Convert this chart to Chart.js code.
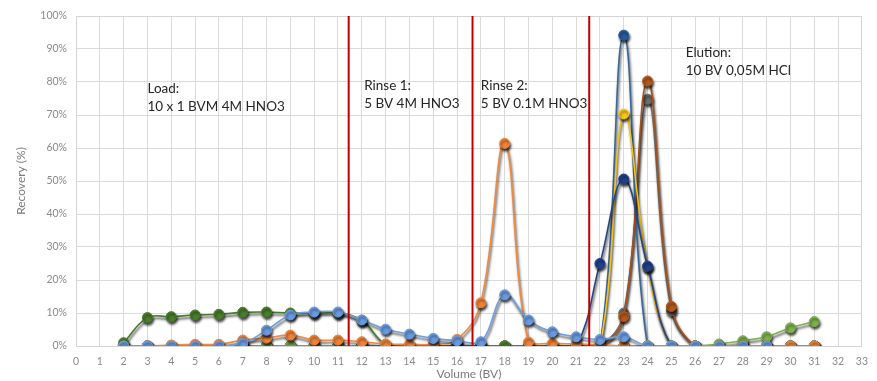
<!DOCTYPE html>
<html>
<head>
<meta charset="utf-8">
<script src="https://cdn.jsdelivr.net/npm/chart.js@4"></script>
<style>
  html, body { margin: 0; padding: 0; background: #fff; }
  #wrap { width: 877px; height: 381px; }
</style>
</head>
<body>
<div id="wrap"><canvas id="chart"></canvas></div>
<script>
// volumes (BV) where fractions were collected
const volumes = [2, 3, 4, 5, 6, 7, 8, 9, 10, 11, 12, 13, 14, 15, 16, 17, 18, 19, 20, 21, 22, 23, 24, 25, 26, 27, 28, 29, 30, 31];

// recovery (%) per series, one value per volume
const lightBlue  = [0, 0, 0, 0, 0, 0.8, 4.8, 9.4, 10.3, 10.3, 7.9, 5.1, 3.6, 2.3, 1.6, 1.3, 15.5, 7.9, 4.3, 2.8, 2, 2.8, 0, 0, 0, 0, 0, 0, null, null];
const orange     = [0, 0, 0.3, 0.5, 0.5, 1.8, 2.4, 3.3, 1.8, 1.8, 1.3, 0.6, 0.5, 0.5, 2, 13.1, 61.4, 1.2, 0.8, 0.6, 0.4, 0, 0, 0, 0, 0, 0, 0, 0, 0];
const darkGreen  = [1, 8.6, 8.9, 9.4, 9.6, 10.2, 10.3, 10, 10, 10, 7.8, 0.5, 0, 0, 0, 0, 0, 0, 0, 0, 0, 0, 0, 0, 0, 0, 0, 0, 0, 0];
const lightGreen = [0, 0, 0, 0, 0, 0, 0, 0, 0, 0, 0, 0, 0, 0, 0, 0, 0, 0, 0, 0, 0, 0, 0, 0, 0, 0.6, 1.6, 2.8, 5.5, 7.4];
const yellow     = [0, 0, 0, 0, 0, 0, 0, 0, 0, 0, 0, 0, 0, 0, 0, 0, 0, 0, 0, 0, 0, 70.3, 24, 0, 0, 0, 0, 0, 0, 0];
const steelBlue  = [0, 0, 0, 0, 0, 0, 0, 0, 0, 0, 0, 0, 0, 0, 0, 0, 0, 0, 0, 0, 0, 94.2, 0, 0, 0, 0, 0, 0, 0, 0];
const navy       = [0, 0, 0, 0, 0, 0, 0, 0, 0, 0, 0, 0, 0, 0, 0, 0, 0, 0, 0, 0, 25, 50.6, 24.2, 0, 0, 0, 0, 0, 0, 0];
const brown      = [0, 0, 0, 0, 0, 0, 0, 0, 0, 0, 0, 0, 0, 0, 0, 0, 0, 0, 0, 0, 0, 8.9, 80.3, 12, 0, 0, 0, 0, 0, 0];
const gray       = [0, 0, 0, 0, 0, 0, 0, 0, 0, 0, 0, 0, 0, 0, 0, 0, 0, 0, 0, 0, 0, 10, 74.8, 10.7, 0, 0, 0, 0, 0, 0];
const olive      = [0, 0, 0, 0, 0, 0, 0, 0, 0, 0, 0, 0, 0, 0, 0, 0, 0, 0, 0, 0, 0, 0, 0, 0, 0, 0, 0, 0, 0, 0];

// phase boundaries (BV) and their labels
const boundaries = [11.45, 16.65, 21.55];
const phaseNotes = [
  { x: 3.0,  y: 78, lines: ['Load:', '10 x 1 BVM 4M HNO3'] },
  { x: 12.1, y: 79, lines: ['Rinse 1:', '5 BV 4M HNO3'] },
  { x: 17.0, y: 79, lines: ['Rinse 2:', '5 BV 0.1M HNO3'] },
  { x: 25.6, y: 89, lines: ['Elution:', '10 BV 0,05M HCl'] }
];

function points(arr) {
  return volumes.map((v, i) => ({ x: v, y: arr[i] })).filter(p => p.y !== null);
}

function series(arr, line, fill) {
  return {
    data: points(arr),
    borderColor: line,
    backgroundColor: fill,
    pointBackgroundColor: fill,
    pointBorderColor: fill,
    pointRadius: 5,
    pointBorderWidth: 1,
    borderWidth: 1.6,
    tension: 0.4,
    fill: false
  };
}

// first dataset is drawn on top
const datasets = [
  series(lightBlue, '#6f9fdc', '#6a9be0'),
  series(orange, '#f08a3e', '#f0843a'),
  series(darkGreen, '#4a7a2e', '#4a7d2c'),
  series(lightGreen, '#80b450', '#7fb24f'),
  series(navy, '#27457e', '#22418a'),
  series(yellow, '#f2c21a', '#f8c81c'),
  series(steelBlue, '#3a6898', '#2a5c9c'),
  series(brown, '#a5521c', '#b3591e'),
  series(gray, '#737373', '#6e6e6e'),
  series(olive, '#9a7a12', '#9a7a12')
];

const shadowPlugin = {
  id: 'shadow',
  beforeDatasetDraw(chart) {
    const ctx = chart.ctx;
    ctx.save();
    ctx.shadowColor = 'rgba(0,0,0,0.75)';
    ctx.shadowBlur = 2.5;
    ctx.shadowOffsetX = 1;
    ctx.shadowOffsetY = 2.5;
  },
  afterDatasetDraw(chart) {
    chart.ctx.restore();
  }
};

const decorPlugin = {
  id: 'decor',
  beforeDatasetsDraw(chart) {
    const { ctx, chartArea: a } = chart;
    ctx.save();
    ctx.strokeStyle = '#d4d4d4';
    ctx.lineWidth = 1;
    ctx.strokeRect(a.left + 0.5, a.top + 0.5, a.right - a.left - 1, a.bottom - a.top);
    ctx.restore();
  },
  afterDatasetsDraw(chart) {
    const { ctx, chartArea: a, scales: { x, y } } = chart;
    ctx.save();
    ctx.strokeStyle = '#c00000';
    ctx.lineWidth = 2;
    boundaries.forEach(b => {
      const px = x.getPixelForValue(b);
      ctx.beginPath();
      ctx.moveTo(px, a.top);
      ctx.lineTo(px, a.bottom);
      ctx.stroke();
    });
    ctx.fillStyle = '#262626';
    ctx.font = '13.5px Lato, "Open Sans", sans-serif';
    ctx.textBaseline = 'middle';
    phaseNotes.forEach(n => {
      const px = x.getPixelForValue(n.x);
      const py = y.getPixelForValue(n.y);
      n.lines.forEach((t, i) => ctx.fillText(t, px, py + i * 18));
    });
    ctx.restore();
  }
};

new Chart(document.getElementById('chart'), {
  type: 'line',
  data: { datasets },
  options: {
    responsive: true,
    maintainAspectRatio: false,
    animation: false,
    layout: { padding: { top: 16, right: 15, left: 0, bottom: 0 } },
    plugins: { legend: { display: false }, tooltip: { enabled: false } },
    scales: {
      x: {
        type: 'linear',
        min: 0,
        max: 33,
        afterFit: s => { s.height = 35; },
        ticks: { stepSize: 1, autoSkip: false, maxRotation: 0, padding: 9, color: '#8a8a8a', font: { family: 'Lato', size: 10.5 } },
        grid: { color: '#dadada', drawTicks: false },
        border: { display: false },
        title: { display: true, text: 'Volume (BV)', color: '#7a7a7a', font: { family: 'Lato', size: 12 }, padding: { top: 0, bottom: 0 } }
      },
      y: {
        min: 0,
        max: 100,
        afterFit: s => { s.width = 76; },
        ticks: { stepSize: 10, padding: 9, color: '#8a8a8a', font: { family: 'Lato', size: 10.5 }, callback: v => v + '%' },
        grid: { color: '#dadada', drawTicks: false },
        border: { display: false },
        title: { display: true, text: 'Recovery (%)', color: '#7a7a7a', font: { family: 'Lato', size: 12 }, padding: { top: 14, bottom: 0 } }
      }
    }
  },
  plugins: [shadowPlugin, decorPlugin]
});
</script>
</body>
</html>
